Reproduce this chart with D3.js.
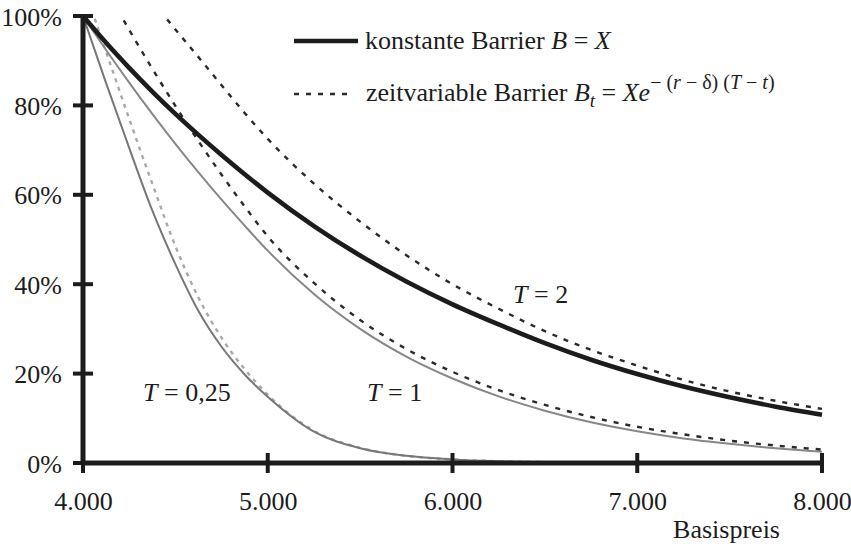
<!DOCTYPE html>
<html><head><meta charset="utf-8">
<script src="https://cdn.jsdelivr.net/npm/d3@7"></script>
</head>
<body style="margin:0">
<svg id="chart" width="851" height="548"></svg>
<script>
// ---- data ----
const strikes = [4000,4125,4250,4375,4500,4625,4750,4875,5000,5250,5500,5750,6000,6250,6500,6750,7000,7250,7500,7750,8000];
const constT2  = [100,94,88.4,83.1,78.1,73.4,68.9,64.6,60.5,53,46.4,40.6,35.5,31,26.8,23.1,19.9,17.1,14.7,12.6,10.8];
const varT2    = [122,115.5,109.5,103.3,97,90.8,84.5,78.3,72.5,62.5,54,46.5,40,34.5,29.5,25.3,21.8,18.6,16,13.9,12.1];
const constT1  = [100,92.4,85.1,78.1,71.4,65,58.9,53.1,47.5,37.8,30,23.8,18.9,14.9,11.7,9.1,7.1,5.5,4.3,3.3,2.5];
const varT1    = [115.5,106,96.9,88.2,79.9,72,64.5,57.4,50.7,40.3,32,25.5,20.4,16.3,13,10.3,8.1,6.4,5,3.9,3];
const constT025= [100,85,70.5,56.5,44.5,34,26,19.8,14.8,7,3.3,1.6,0.8,0.4,0.2,0.1,0.05,0,0,0,0];
const varT025  = [107,92,77,62.5,48.5,37,28,21,15.3,7.2,3.4,1.6,0.8,0.4,0.2,0.1,0.05,0,0,0,0];
const xTicks = [4000,5000,6000,7000,8000];
const xTickLabels = ["4.000","5.000","6.000","7.000","8.000"];
const yTicks = [0,20,40,60,80,100];
const yTickLabels = ["0%","20%","40%","60%","80%","100%"];
const xTitle = "Basispreis";

const FONT = "'Liberation Serif'";
const FS = "26px";
const INK = "#1c1c1c";

// ---- layout ----
const svg = d3.select("#chart");
const x = d3.scaleLinear().domain([4000,8000]).range([83,822]);
const y = d3.scaleLinear().domain([0,100]).range([463,16]);

svg.append("defs").append("clipPath").attr("id","plot")
  .append("rect").attr("x",x(4000)).attr("y",y(100)).attr("width",x(8000)-x(4000)).attr("height",y(0)-y(100)+5);

const line = d3.line().x((d,i)=>x(strikes[i])).y(d=>y(d)).curve(d3.curveMonotoneX);

const series = [
  {v:varT025,  stroke:"#a9a9a9", w:2.4, dash:"4,5", clip:true},
  {v:constT025,stroke:"#777777", w:2,   dash:null, clip:false},
  {v:constT1,  stroke:"#878787", w:2,   dash:null, clip:false},
  {v:varT1,    stroke:"#2a2a2a", w:2.4, dash:"5,7", clip:true},
  {v:varT2,    stroke:"#2a2a2a", w:2.4, dash:"5,7", clip:true},
  {v:constT2,  stroke:INK, w:4.6, dash:null, clip:false}
];
const g = svg.append("g");
series.forEach(s=>{
  const p = g.append("path").attr("d",line(s.v)).attr("fill","none")
    .attr("stroke",s.stroke).attr("stroke-width",s.w);
  if(s.dash) p.attr("stroke-dasharray",s.dash);
  if(s.clip) p.attr("clip-path","url(#plot)");
});

// ---- axes ----
const ax = svg.append("g").attr("stroke",INK).attr("stroke-width",5);
ax.append("line").attr("x1",x(4000)).attr("x2",x(8000)).attr("y1",y(0)).attr("y2",y(0));
ax.append("line").attr("x1",x(4000)).attr("x2",x(4000)).attr("y1",y(0)).attr("y2",y(100));
ax.selectAll(".xt").data(xTicks).enter().append("line")
  .attr("x1",d=>x(d)).attr("x2",d=>x(d)).attr("y1",y(0)-10).attr("y2",y(0)+10).attr("stroke-width",4);
ax.selectAll(".yt").data(yTicks).enter().append("line")
  .attr("x1",x(4000)-10).attr("x2",x(4000)+10).attr("y1",d=>y(d)).attr("y2",d=>y(d)).attr("stroke-width",4);

const xAxis = d3.axisBottom(x).tickValues(xTicks).tickSize(0).tickPadding(0)
  .tickFormat((d,i)=>xTickLabels[i]);
const xg = svg.append("g").attr("transform",`translate(0,${y(0)})`).call(xAxis);
xg.attr("font-family",null).attr("font-size",null);
xg.select(".domain").remove();
xg.selectAll("text").style("font-family",FONT).style("font-size",FS)
  .attr("fill",INK).attr("dy",null).attr("y",47);

const yAxis = d3.axisLeft(y).tickValues(yTicks).tickSize(0).tickPadding(0)
  .tickFormat((d,i)=>yTickLabels[i]);
const yg = svg.append("g").attr("transform",`translate(62,0)`).call(yAxis);
yg.attr("font-family",null).attr("font-size",null);
yg.select(".domain").remove();
yg.selectAll("text").style("font-family",FONT).style("font-size",FS)
  .attr("fill",INK).attr("dy",null).attr("y",9).attr("x",0);

svg.append("text").attr("x",780).attr("y",538).attr("text-anchor","end")
  .style("font-family",FONT).style("font-size",FS).attr("fill",INK).text(xTitle);

// ---- curve labels ----
function tLabel(xp,yp,val){
  const t = svg.append("text").attr("x",xp).attr("y",yp)
    .style("font-family",FONT).style("font-size",FS).attr("fill",INK);
  t.append("tspan").style("font-style","italic").text("T");
  t.append("tspan").text(" = "+val);
}
tLabel(143,401,"0,25");
tLabel(367,401,"1");
tLabel(513,303,"2");

// ---- legend ----
svg.append("line").attr("x1",294).attr("x2",358).attr("y1",41).attr("y2",41)
  .attr("stroke",INK).attr("stroke-width",4.6);
const l1 = svg.append("text").attr("x",365).attr("y",49)
  .style("font-family",FONT).style("font-size",FS).attr("fill",INK);
l1.append("tspan").text("konstante Barrier ");
l1.append("tspan").style("font-style","italic").text("B");
l1.append("tspan").text(" = ");
l1.append("tspan").style("font-style","italic").text("X");

svg.append("line").attr("x1",294).attr("x2",352).attr("y1",94).attr("y2",94)
  .attr("stroke","#2a2a2a").attr("stroke-width",2.6).attr("stroke-dasharray","5,7");
const l2 = svg.append("text").attr("x",366).attr("y",101)
  .style("font-family",FONT).style("font-size",FS).attr("fill",INK);
l2.append("tspan").text("zeitvariable Barrier  ");
l2.append("tspan").style("font-style","italic").text("B");
l2.append("tspan").style("font-style","italic").style("font-size","19px").attr("dy",6).text("t");
l2.append("tspan").attr("dy",-6).text(" = ");
l2.append("tspan").style("font-style","italic").text("Xe");
const sup = [["− (","n"],["r","i"],[" − δ) (","n"],["T","i"],[" − ","n"],["t","i"],[")","n"]];
sup.forEach((s,i)=>{
  const ts = l2.append("tspan").style("font-size","20px").text(s[0]);
  if(s[1]==="i") ts.style("font-style","italic");
  if(i===0) ts.attr("dy",-12);
});
</script>
</body></html>
